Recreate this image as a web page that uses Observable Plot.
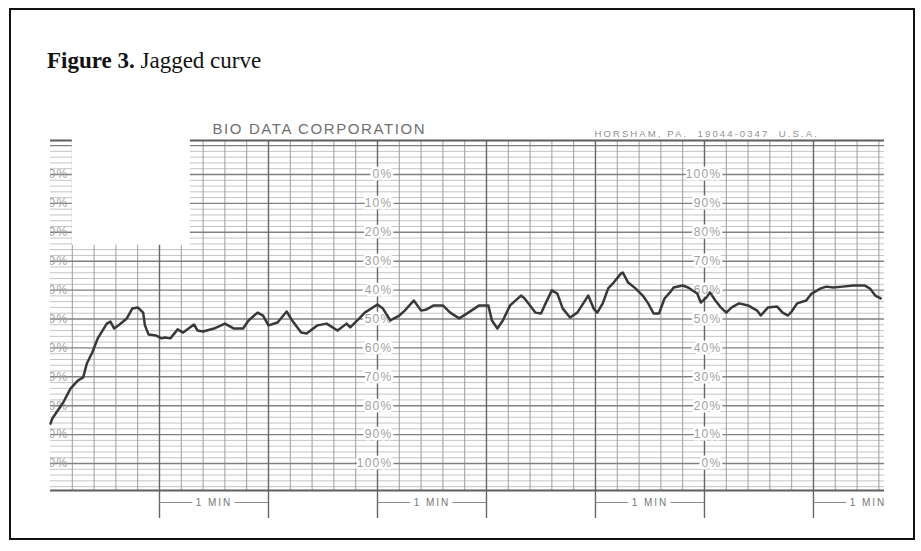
<!DOCTYPE html>
<html><head><meta charset="utf-8">
<script src="https://cdn.jsdelivr.net/npm/d3@7"></script>
<script src="https://cdn.jsdelivr.net/npm/@observablehq/plot@0.6"></script>
<style>
html,body{margin:0;padding:0;background:#fff;width:921px;height:551px;overflow:hidden;}
#chart{position:absolute;left:0;top:0;}
#frame{position:absolute;left:9px;top:8px;width:902px;height:528px;border:2.5px solid #111;}
#title{position:absolute;left:47px;top:49px;font-family:"Liberation Serif","Times New Roman",serif;font-size:23px;line-height:1;color:#111;white-space:nowrap;}
</style></head><body>
<div id="chart"></div>
<div id="frame"></div>
<div id="title"><b>Figure 3.</b> Jagged curve</div>
<script>
// ---- data ----
// time along the strip, seconds
const times = [0,1,7,11,15,18,20,23,26,31,33,35,38,42,45,48,51,52,54,58,61,63,66,70,73,79,81,84,90,96,
101,106,109,114,117,120,125,130,133,138,141,147,152,158,163,165,170,173,180,183,187,192,195,200,204,207,211,216,220,225,
230,236,241,243,246,249,253,259,261,267,270,272,276,279,282,286,290,296,299,301,304,307,310,314,315,318,322,326,329,332,
335,338,341,343,348,351,356,358,361,363,366,369,372,375,379,384,389,391,395,400,403,406,408,411,416,419,424,427,431,436,
442,448,451,454,457];
// trace level, % on the right-hand scale (100% at top)
const values = [13.8,15.6,21.1,25.9,28.7,29.8,34.6,38.4,43.3,48.4,49.1,46.7,48.1,50.2,53.6,54.0,52.2,47.8,44.6,44.3,
43.3,43.6,43.3,46.4,45.3,48.1,46.0,45.7,46.7,48.4,46.7,46.7,49.5,52.2,51.2,47.8,48.8,52.6,49.5,45.3,
45.0,47.8,48.4,46.0,48.4,47.1,50.2,52.2,55.0,53.6,49.5,51.2,52.9,56.4,52.9,53.3,54.7,54.7,52.2,50.2,
52.2,54.7,54.7,49.5,46.7,49.5,54.7,58.1,57.1,52.2,51.9,54.7,59.9,58.8,53.6,50.5,52.2,58.1,53.6,52.2,
55.4,60.6,62.6,65.7,66.1,62.6,60.6,58.1,55.4,51.9,51.9,57.1,59.2,60.9,61.6,60.9,58.8,55.7,57.4,59.2,
56.4,54.0,52.2,54.0,55.4,54.7,52.9,51.2,54.0,54.3,52.2,51.2,52.6,55.4,56.4,58.8,60.6,61.2,60.9,61.2,
61.6,61.6,60.6,58.1,57.1];
const scaleLevels = [100,90,80,70,60,50,40,30,20,10,0];
const middleScaleLabels = ["0%","10%","20%","30%","40%","50%","60%","70%","80%","90%","100%"];
const rightScaleLabels = ["100%","90%","80%","70%","60%","50%","40%","30%","20%","10%","0%"];
const minuteBracketStarts = [60,180,300,420];
const minuteBracketLabel = "1 MIN";
const headerName = "BIO DATA CORPORATION";
const headerAddress = "HORSHAM, PA.  19044-0347  U.S.A.";
const blankPatch = [{t1: 12, t2: 77, v1: 75.5, v2: 113}];

// ---- chart ----
const xMax = 459.1, yMin = -9.34, yMax = 111.76;
const trace = times.map((t, i) => ({t, v: values[i]}));
const minuteLines = d3.range(60, xMax, 60);
const gridTimes = d3.range(12, xMax, 12).filter(t => t % 60 !== 0);
const minorLevels = d3.range(-8, 112, 2).filter(v => v % 10 !== 0);
const majorLevels = d3.range(0, 111, 10);
const labelFont = {fontFamily: "Liberation Sans, Arial, sans-serif", fontSize: 12, fill: "#a0a0a0", textAnchor: "end"};

const svg = Plot.plot({
  width: 921, height: 551,
  marginLeft: 50, marginRight: 37, marginTop: 140, marginBottom: 61,
  x: {domain: [0, xMax], axis: null},
  y: {domain: [yMin, yMax], axis: null},
  style: {background: "transparent", overflow: "visible"},
  marks: [
    Plot.ruleY(minorLevels, {stroke: "#bdbdbd", strokeWidth: 0.9}),
    Plot.ruleX(gridTimes, {stroke: "#9c9c9c", strokeWidth: 1}),
    Plot.ruleY(majorLevels, {stroke: "#808080", strokeWidth: 1.4}),
    Plot.ruleX(minuteLines, {y1: -19, y2: yMax, stroke: "#666", strokeWidth: 1.4}),
    Plot.ruleY([yMin, yMax], {stroke: "#5e5e5e", strokeWidth: 1.8}),
    Plot.rect(blankPatch, {x1: "t1", x2: "t2", y1: "v1", y2: "v2", fill: "white"}),
    Plot.text(scaleLevels, {x: 9.9, y: d => d, text: (d, i) => rightScaleLabels[i], clip: true, ...labelFont}),
    Plot.text(scaleLevels, {x: 188.3, y: d => d, text: (d, i) => middleScaleLabels[i], stroke: "white", strokeWidth: 5, ...labelFont}),
    Plot.text(scaleLevels, {x: 369.4, y: d => d, text: (d, i) => rightScaleLabels[i], stroke: "white", strokeWidth: 5, ...labelFont}),
    Plot.line(trace, {x: "t", y: "v", stroke: "#383838", strokeWidth: 2.5, strokeLinejoin: "round"}),
    Plot.ruleY(minuteBracketStarts, {x1: d => d, x2: d => Math.min(d + 60, xMax), y: -13.5, stroke: "#8a8a8a", strokeWidth: 1}),
    Plot.text(minuteBracketStarts, {x: d => d + 30, y: -13.5, text: () => minuteBracketLabel, stroke: "white", strokeWidth: 10,
      fill: "#777", fontSize: 10, fontFamily: "Liberation Sans, Arial, sans-serif"}),
    Plot.text([headerName], {frameAnchor: "top-left", dx: 162, dy: -7, lineAnchor: "bottom", textAnchor: "start",
      fill: "#707070", fontSize: 15, fontFamily: "Liberation Sans, Arial, sans-serif"}),
    Plot.text([headerAddress], {frameAnchor: "top-left", dx: 544, dy: -4, lineAnchor: "bottom", textAnchor: "start",
      fill: "#8f8f8f", fontSize: 9.5, fontFamily: "Liberation Sans, Arial, sans-serif"})
  ]
});
d3.select(svg).selectAll("text").each(function() {
  const s = this.textContent;
  if (s === headerName) this.style.letterSpacing = "1.6px";
  else if (s === headerAddress) this.style.letterSpacing = "2.1px";
  else if (s === minuteBracketLabel) this.style.letterSpacing = "2px";
  else if (s.endsWith("%")) this.style.letterSpacing = "1.3px";
});
document.getElementById("chart").appendChild(svg);
</script>
</body></html>
